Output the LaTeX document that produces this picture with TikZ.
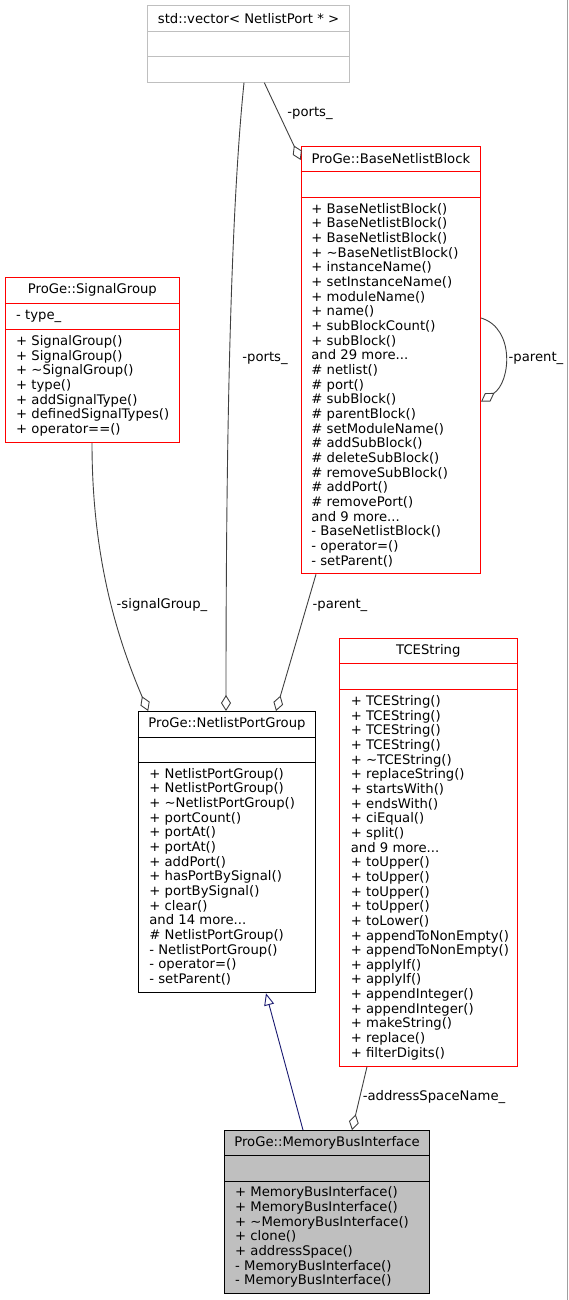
\documentclass[tikz,border=0pt]{standalone}
\usepackage{fontspec}
\setmainfont{DejaVu Sans}
\usetikzlibrary{arrows.meta,positioning,calc}

\definecolor{boxgray}{HTML}{BFBFBF}
\definecolor{edgegray}{HTML}{404040}
\definecolor{inheritblue}{HTML}{191970}
\definecolor{framegray}{HTML}{A0A0A0}

\tikzset{
  umlbox/.style={draw, rectangle, inner sep=0pt, anchor=north west, line width=1pt},
  boxtitle/.style={inner sep=0pt, font=\fontsize{13.2}{14.66}\selectfont},
  members/.style={inner sep=0pt, anchor=north west, align=left, font=\fontsize{13.2}{14.66}\selectfont},
  edgelabel/.style={inner sep=0pt, font=\fontsize{13.2}{14.66}\selectfont},
  assoc/.style={draw=edgegray, line width=0.9pt, -{Diamond[open, length=16pt, width=10pt]}},
  inherit/.style={draw=inheritblue, line width=0.9pt, -{Triangle[open, length=12pt, width=10pt]}}
}

\begin{document}
\begin{tikzpicture}[x=1pt,y=-1pt]
    \useasboundingbox (0,0) rectangle (569,1300);
    \draw[framegray] (567.5,0) -- (567.5,1300);

    % std::vector
    \node[umlbox, draw=boxgray, minimum width=201.4pt, minimum height=76.4pt] (vec) at (147.3,5.3) {};
    \draw[boxgray] ([yshift=-26pt]vec.north west) -- ([yshift=-26pt]vec.north east);
    \draw[boxgray] ([yshift=-51.4pt]vec.north west) -- ([yshift=-51.4pt]vec.north east);
    \node[boxtitle] (vectitle) at ([yshift=-13pt]vec.north) {std::vector< NetlistPort * >};

    % BaseNetlistBlock
    \node[umlbox, draw=red, minimum width=179.3pt, minimum height=427.3pt] (block) at (300.7,146) {};
    \draw[red] ([yshift=-25.7pt]block.north west) -- ([yshift=-25.7pt]block.north east);
    \draw[red] ([yshift=-50.7pt]block.north west) -- ([yshift=-50.7pt]block.north east);
    \node[boxtitle] (blocktitle) at ([yshift=-12.8pt]block.north) {ProGe::BaseNetlistBlock};
    \node[members] (blockops) at ([xshift=10.5pt,yshift=-57pt]block.north west) {%
      + BaseNetlistBlock()\\ + BaseNetlistBlock()\\ + BaseNetlistBlock()\\
      + \textasciitilde BaseNetlistBlock()\\ + instanceName()\\ + setInstanceName()\\
      + moduleName()\\ + name()\\ + subBlockCount()\\ + subBlock()\\
      and 29 more...\\ \# netlist()\\ \# port()\\ \# subBlock()\\ \# parentBlock()\\
      \# setModuleName()\\ \# addSubBlock()\\ \# deleteSubBlock()\\ \# removeSubBlock()\\
      \# addPort()\\ \# removePort()\\ and 9 more...\\ - BaseNetlistBlock()\\
      - operator=()\\ - setParent()};

    % SignalGroup
    \node[umlbox, draw=red, minimum width=173.7pt, minimum height=164.7pt] (sig) at (5,277.3) {};
    \draw[red] ([yshift=-26pt]sig.north west) -- ([yshift=-26pt]sig.north east);
    \draw[red] ([yshift=-51.7pt]sig.north west) -- ([yshift=-51.7pt]sig.north east);
    \node[boxtitle] (sigtitle) at ([yshift=-13pt]sig.north) {ProGe::SignalGroup};
    \node[members] (sigattr) at ([xshift=11pt,yshift=-32.5pt]sig.north west) {- type\_};
    \node[members] (sigops) at ([xshift=11pt,yshift=-58pt]sig.north west) {%
      + SignalGroup()\\ + SignalGroup()\\ + \textasciitilde SignalGroup()\\ + type()\\
      + addSignalType()\\ + definedSignalTypes()\\ + operator==()};

    % NetlistPortGroup
    \node[umlbox, draw=black, minimum width=177.6pt, minimum height=281.3pt] (npg) at (137.7,711) {};
    \draw ([yshift=-25.7pt]npg.north west) -- ([yshift=-25.7pt]npg.north east);
    \draw ([yshift=-51pt]npg.north west) -- ([yshift=-51pt]npg.north east);
    \node[boxtitle] (npgtitle) at ([yshift=-12.8pt]npg.north) {ProGe::NetlistPortGroup};
    \node[members] (npgops) at ([xshift=11.5pt,yshift=-57pt]npg.north west) {%
      + NetlistPortGroup()\\ + NetlistPortGroup()\\ + \textasciitilde NetlistPortGroup()\\
      + portCount()\\ + portAt()\\ + portAt()\\ + addPort()\\ + hasPortBySignal()\\
      + portBySignal()\\ + clear()\\ and 14 more...\\ \# NetlistPortGroup()\\
      - NetlistPortGroup()\\ - operator=()\\ - setParent()};

    % TCEString
    \node[umlbox, draw=red, minimum width=177.7pt, minimum height=428pt] (tce) at (339,637.7) {};
    \draw[red] ([yshift=-25.6pt]tce.north west) -- ([yshift=-25.6pt]tce.north east);
    \draw[red] ([yshift=-51.3pt]tce.north west) -- ([yshift=-51.3pt]tce.north east);
    \node[boxtitle] (tcetitle) at ([yshift=-12.8pt]tce.north) {TCEString};
    \node[members] (tceops) at ([xshift=11.7pt,yshift=-57.5pt]tce.north west) {%
      + TCEString()\\ + TCEString()\\ + TCEString()\\ + TCEString()\\
      + \textasciitilde TCEString()\\ + replaceString()\\ + startsWith()\\ + endsWith()\\
      + ciEqual()\\ + split()\\ and 9 more...\\ + toUpper()\\ + toUpper()\\ + toUpper()\\
      + toUpper()\\ + toLower()\\ + appendToNonEmpty()\\ + appendToNonEmpty()\\
      + applyIf()\\ + applyIf()\\ + appendInteger()\\ + appendInteger()\\
      + makeString()\\ + replace()\\ + filterDigits()};

    % MemoryBusInterface
    \node[umlbox, draw=black, fill=boxgray, minimum width=205pt, minimum height=163.3pt] (mbi) at (224,1130) {};
    \draw ([yshift=-25pt]mbi.north west) -- ([yshift=-25pt]mbi.north east);
    \draw ([yshift=-50.7pt]mbi.north west) -- ([yshift=-50.7pt]mbi.north east);
    \node[boxtitle] (mbititle) at ([yshift=-12.5pt]mbi.north) {ProGe::MemoryBusInterface};
    \node[members] (mbiops) at ([xshift=11pt,yshift=-56.5pt]mbi.north west) {%
      + MemoryBusInterface()\\ + MemoryBusInterface()\\ + \textasciitilde MemoryBusInterface()\\
      + clone()\\ + addressSpace()\\ - MemoryBusInterface()\\ - MemoryBusInterface()};

    % relations
    \draw[assoc] ([xshift=117pt]vec.south west) -- ([yshift=-14pt]block.north west);
    \node[edgelabel] (portslabelA) at (310,113) {-ports\_};
    \draw[assoc] ([xshift=96.7pt]vec.south west) .. controls (232,200) and (226,400) .. ([xshift=88.3pt]npg.north west);
    \node[edgelabel] (portslabelB) at (265,358) {-ports\_};
    \draw[assoc] ([xshift=87pt]sig.south west) .. controls (92,560) and (118,640) .. ([xshift=10.5pt]npg.north west);
    \node[edgelabel] (siglabel) at (162,605) {-signalGroup\_};
    \draw[assoc] ([xshift=15.3pt]block.south west) -- ([xshift=138.3pt]npg.north west);
    \node[edgelabel] (parentlabelA) at (340,605) {-parent\_};
    \draw[assoc] ([yshift=-172pt]block.north east) .. controls (515,328) and (511,382) .. ([yshift=-255.7pt]block.north east);
    \node[edgelabel] (parentlabelB) at (536,358) {-parent\_};
    \draw[inherit] ([xshift=79pt]mbi.north west) -- ([xshift=128.3pt]npg.south west);
    \draw[assoc] ([xshift=28pt]tce.south west) -- ([xshift=128pt]mbi.north west);
    \node[edgelabel] (addrlabel) at (434,1097) {-addressSpaceName\_};
\end{tikzpicture}
\end{document}
